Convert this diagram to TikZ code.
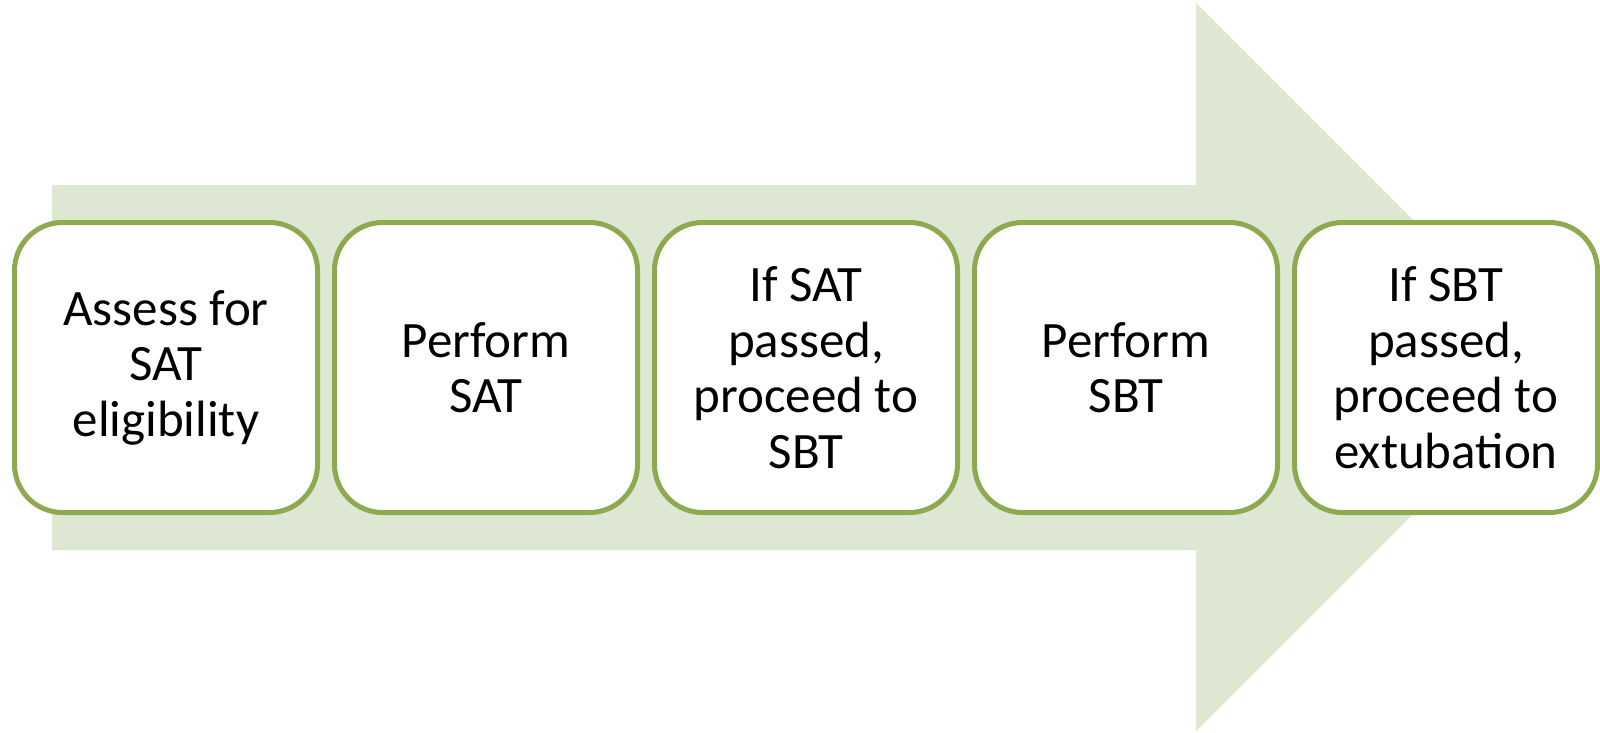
\documentclass[tikz,border=0pt]{standalone}
\usepackage{fontspec}
\setmainfont{Carlito}
\definecolor{arrowfill}{HTML}{DEE7D1}
\definecolor{boxline}{HTML}{8EAA50}
\tikzset{
  stepbox/.style={draw=boxline, line width=5pt, fill=white, rounded corners=48pt,
    minimum width=303pt, minimum height=290pt, inner sep=0pt, align=center,
    font=\fontsize{51}{55.5}\selectfont, text=black}
}
\begin{document}
\begin{tikzpicture}[x=1pt,y=-1pt]
\useasboundingbox (0,0) rectangle (1600,732);
\fill[arrowfill] (52,185) -- (1196,185) -- (1196,3) -- (1560,367) -- (1196,731) -- (1196,550) -- (52,550) -- cycle;
\node[stepbox] (b1) at (166,367.5) {Assess for\\SAT\\eligibility};
\node[stepbox] (b2) at (486,367.5) {Perform\\SAT};
\node[stepbox] (b3) at (806,367.5) {If SAT\\passed,\\proceed to\\SBT};
\node[stepbox] (b4) at (1126,367.5) {Perform\\SBT};
\node[stepbox] (b5) at (1446,367.5) {If SBT\\passed,\\proceed to\\extubation};
\end{tikzpicture}
\end{document}
